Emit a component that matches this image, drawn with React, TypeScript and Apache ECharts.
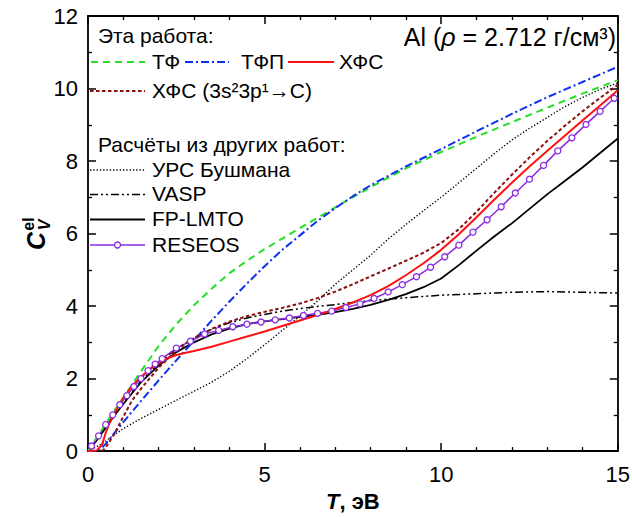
import { useEffect, useRef } from "react";
import * as echarts from "echarts";

// ---------- data ----------
const tfX = [0, 0.25, 0.5, 0.75, 1, 1.5, 2, 2.5, 3, 3.5, 4, 4.5, 5, 6, 7, 8, 9, 10, 11, 12, 13, 14, 15];
const tfY = [0, 0.38, 0.75, 1.12, 1.48, 2.2, 2.9, 3.5, 4.02, 4.48, 4.9, 5.25, 5.57, 6.15, 6.72, 7.28, 7.8, 8.25, 8.67, 9.07, 9.47, 9.86, 10.23];

const tfpX = [0, 0.3, 0.5, 0.75, 1, 1.5, 2, 2.5, 3, 3.5, 4, 4.5, 5, 5.5, 6, 6.5, 7, 7.5, 8, 9, 10, 11, 12, 13, 14, 15];
const tfpY = [0, 0.0, 0.2, 0.5, 0.8, 1.38, 1.95, 2.5, 3.05, 3.6, 4.12, 4.62, 5.1, 5.55, 5.95, 6.35, 6.7, 7.03, 7.33, 7.85, 8.33, 8.82, 9.3, 9.76, 10.18, 10.6];

const hfsX = [0, 0.25, 0.4, 0.5, 0.6, 0.75, 1, 1.25, 1.5, 1.75, 2, 2.25, 2.5, 2.7, 3, 3.5, 4, 4.5, 5, 5.5, 6, 6.5, 7, 7.5, 8, 8.5, 9, 9.5, 10, 10.5, 11, 11.5, 12, 12.5, 13, 13.5, 14, 14.5, 15];
const hfsY = [0, 0.02, 0.18, 0.5, 0.75, 1.05, 1.47, 1.8, 2.05, 2.25, 2.42, 2.56, 2.65, 2.7, 2.76, 2.88, 3.02, 3.16, 3.3, 3.45, 3.6, 3.75, 3.92, 4.1, 4.3, 4.55, 4.85, 5.18, 5.55, 5.98, 6.45, 6.93, 7.4, 7.85, 8.28, 8.7, 9.12, 9.53, 9.95];

const hfs3X = [0.4, 0.5, 0.75, 1, 1.25, 1.5, 2, 2.5, 3, 3.5, 4, 4.5, 5, 5.5, 6, 6.5, 7, 7.5, 8, 8.5, 9, 9.5, 10, 10.5, 11, 11.5, 12, 12.5, 13, 13.5, 14, 14.5, 15];
const hfs3Y = [0, 0.1, 0.48, 0.95, 1.4, 1.72, 2.3, 2.78, 3.12, 3.37, 3.57, 3.72, 3.84, 3.95, 4.07, 4.22, 4.4, 4.6, 4.82, 5.03, 5.25, 5.47, 5.74, 6.12, 6.6, 7.12, 7.62, 8.1, 8.55, 8.97, 9.37, 9.74, 10.1];

const ursX = [0, 0.3, 0.5, 0.7, 1, 1.5, 2, 2.5, 3, 3.5, 4, 4.5, 5, 5.5, 6, 6.5, 7, 7.5, 8, 8.5, 9, 9.5, 10, 10.5, 11, 11.5, 12, 12.5, 13, 13.5, 14, 14.5, 15];
const ursY = [0, 0.15, 0.27, 0.42, 0.62, 0.9, 1.15, 1.4, 1.65, 1.9, 2.2, 2.55, 2.93, 3.33, 3.72, 4.14, 4.6, 5.0, 5.4, 5.85, 6.25, 6.63, 7.0, 7.4, 7.8, 8.2, 8.58, 8.9, 9.2, 9.5, 9.75, 9.98, 10.15];

const vaspX = [0, 0.25, 0.5, 0.75, 1, 1.5, 2, 2.5, 3, 3.5, 4, 4.5, 5, 5.5, 6, 6.5, 7, 7.5, 8, 8.5, 9, 10, 11, 12, 13, 14, 15];
const vaspY = [0, 0.32, 0.68, 1.02, 1.33, 1.93, 2.42, 2.82, 3.12, 3.36, 3.54, 3.67, 3.77, 3.86, 3.93, 3.99, 4.04, 4.1, 4.15, 4.19, 4.23, 4.3, 4.34, 4.38, 4.4, 4.38, 4.36];

const lmtoX = [0, 0.25, 0.5, 0.75, 1, 1.5, 2, 2.5, 3, 3.5, 4, 4.5, 5, 5.5, 6, 6.5, 7, 7.5, 8, 8.5, 9, 9.5, 10, 10.5, 11, 11.5, 12, 12.5, 13, 13.5, 14, 14.5, 15];
const lmtoY = [0, 0.3, 0.64, 0.98, 1.3, 1.9, 2.36, 2.73, 3.0, 3.22, 3.38, 3.5, 3.58, 3.64, 3.7, 3.76, 3.83, 3.92, 4.03, 4.17, 4.33, 4.52, 4.76, 5.13, 5.53, 5.92, 6.28, 6.68, 7.08, 7.45, 7.82, 8.22, 8.62];

const reseosX = [0.1, 0.3, 0.5, 0.7, 0.9, 1.1, 1.3, 1.5, 1.7, 1.9, 2.1, 2.5, 2.9, 3.3, 3.7, 4.1, 4.5, 4.9, 5.3, 5.7, 6.1, 6.5, 6.9, 7.3, 7.7, 8.1, 8.5, 8.9, 9.3, 9.7, 10.1, 10.5, 10.9, 11.3, 11.7, 12.1, 12.5, 12.9, 13.3, 13.7, 14.1, 14.5, 14.9];
const reseosY = [0.14, 0.42, 0.73, 1.0, 1.28, 1.53, 1.78, 2.0, 2.22, 2.4, 2.55, 2.84, 3.03, 3.23, 3.33, 3.43, 3.5, 3.56, 3.62, 3.67, 3.74, 3.8, 3.86, 3.96, 4.06, 4.21, 4.39, 4.59, 4.81, 5.07, 5.36, 5.68, 6.04, 6.38, 6.74, 7.12, 7.5, 7.88, 8.28, 8.64, 9.01, 9.37, 9.73];

const xTickValues = [0, 5, 10, 15];
const yTickValues = [0, 2, 4, 6, 8, 10, 12];

const seriesNames = ["ТФ", "ТФП", "ХФС", "ХФС (3s²3p¹→C)", "УРС Бушмана", "VASP", "FP-LMTO", "RESEOS"];
const headerThis = "Эта работа:";
const headerOther = "Расчёты из других работ:";

// ---------- styles ----------
const FONT = "'Liberation Sans', Arial, sans-serif";
type Sty = { color: string; width: number; dash: number[] | "solid"; symbol?: boolean };
const styles: Sty[] = [
  { color: "#22e022", width: 2, dash: [7, 5] },
  { color: "#1030f0", width: 2, dash: [8, 3, 2, 3] },
  { color: "#ff1010", width: 2, dash: "solid" },
  { color: "#8b1010", width: 2, dash: [3.5, 2.5] },
  { color: "#000000", width: 1.4, dash: [1.3, 2] },
  { color: "#000000", width: 1.5, dash: [8, 3, 2, 3, 2, 3] },
  { color: "#000000", width: 1.8, dash: "solid" },
  { color: "#8a2be2", width: 1.5, dash: "solid", symbol: true },
];
const xsList = [tfX, tfpX, hfsX, hfs3X, ursX, vaspX, lmtoX, reseosX];
const ysList = [tfY, tfpY, hfsY, hfs3Y, ursY, vaspY, lmtoY, reseosY];
const drawOrder = [4, 5, 6, 7, 0, 1, 3, 2];

// legend layout (pixel positions of sample lines / labels)
const legendLayout = [
  { x1: 91, x2: 145, y: 62, tx: 152 },
  { x1: 185, x2: 229, y: 62, tx: 241 },
  { x1: 288, x2: 334, y: 62, tx: 339 },
  { x1: 90, x2: 145, y: 91, tx: 152 },
  { x1: 90, x2: 145, y: 170, tx: 152 },
  { x1: 90, x2: 145, y: 194.5, tx: 152 },
  { x1: 90, x2: 145, y: 219.5, tx: 152 },
  { x1: 90, x2: 145, y: 245, tx: 152 },
];

export default function App() {
  const ref = useRef<HTMLDivElement>(null);
  useEffect(() => {
    document.body.style.margin = "0";
    document.documentElement.style.overflow = "hidden";
    if (!ref.current) return;
    const chart = echarts.init(ref.current, null, { renderer: "svg", width: 633, height: 517 });

    const axisCommon = {
      type: "value" as const,
      axisLine: { show: true, onZero: false, lineStyle: { color: "#000", width: 1.8 } },
      axisTick: { show: true, inside: true, length: 8, lineStyle: { color: "#000", width: 1.5 } },
      minorTick: { show: true, length: 4, lineStyle: { color: "#000", width: 1.3 } },
      splitLine: { show: false },
    };

    const series: any[] = drawOrder.map((i) => {
      const st = styles[i];
      const data = xsList[i].map((x, k) => [x, ysList[i][k]]);
      return {
        type: "line",
        name: seriesNames[i],
        data,
        xAxisIndex: 0,
        yAxisIndex: 0,
        smooth: false,
        showSymbol: !!st.symbol,
        symbol: st.symbol ? "circle" : "none",
        symbolSize: 6,
        itemStyle: { color: "#fff", borderColor: st.color, borderWidth: 1.3 },
        lineStyle: { color: st.color, width: st.width, type: st.dash, join: "round" },
        silent: true,
        z: 3,
      };
    });

    const txt = (s: string, x: number, y: number) => ({
      type: "text",
      x,
      y,
      style: { text: s, font: `21px ${FONT}`, fill: "#000", verticalAlign: "middle", align: "left" },
    });

    const graphics: any[] = [];
    graphics.push(txt(headerThis, 98, 35));
    graphics.push(txt(headerOther, 98, 144));
    legendLayout.forEach((L, i) => {
      const st = styles[i];
      graphics.push({
        type: "line",
        shape: { x1: L.x1, y1: L.y, x2: L.x2, y2: L.y },
        style: {
          stroke: st.color,
          lineWidth: st.width,
          lineDash: st.dash === "solid" ? null : st.dash,
        },
      });
      if (st.symbol) {
        graphics.push({
          type: "circle",
          shape: { cx: (L.x1 + L.x2) / 2, cy: L.y, r: 3 },
          style: { fill: "#fff", stroke: st.color, lineWidth: 1.3 },
        });
      }
      graphics.push(txt(seriesNames[i], L.tx, L.y - 1));
    });
    // title
    graphics.push({
      type: "text",
      x: 616,
      y: 37,
      style: {
        text: "{a|Al (}{i|ρ}{a| = 2.712 г/см³)}",
        align: "right",
        verticalAlign: "middle",
        rich: {
          a: { font: `25px ${FONT}`, fill: "#000" },
          i: { font: `italic 25px ${FONT}`, fill: "#000" },
        },
      },
    });
    // y axis title: C_V^el rotated
    graphics.push({
      type: "group",
      x: 36,
      y: 241,
      rotation: Math.PI / 2,
      children: [
        {
          type: "text",
          x: 0,
          y: 0,
          style: { text: "C", font: `italic bold 25px ${FONT}`, fill: "#000", align: "center", verticalAlign: "middle" },
        },
        {
          type: "text",
          x: 16,
          y: 8,
          style: { text: "V", font: `italic bold 16px ${FONT}`, fill: "#000", align: "center", verticalAlign: "middle" },
        },
        {
          type: "text",
          x: 17,
          y: -8,
          style: { text: "el", font: `bold 16px ${FONT}`, fill: "#000", align: "center", verticalAlign: "middle" },
        },
      ],
    });

    const option: any = {
      animation: false,
      backgroundColor: "#fff",
      grid: { left: 88, right: 13, top: 16, bottom: 60, containLabel: false },
      xAxis: [
        {
          ...axisCommon,
          min: 0,
          max: 15,
          interval: 5,
          position: "bottom",
          minorTick: { ...axisCommon.minorTick, splitNumber: 5 },
          axisLabel: {
            color: "#000",
            fontSize: 22,
            fontFamily: FONT,
            margin: 12,
            formatter: (v: number) => (xTickValues.includes(v) ? String(v) : ""),
          },
          name: "{i|T}{b|, эВ}",
          nameLocation: "middle",
          nameGap: 34,
          nameTextStyle: {
            rich: {
              i: { fontSize: 22, fontWeight: "bold", fontStyle: "italic", fontFamily: FONT, color: "#000" },
              b: { fontSize: 22, fontWeight: "bold", fontFamily: FONT, color: "#000" },
            },
          },
        },
        {
          ...axisCommon,
          min: 0,
          max: 15,
          interval: 5,
          position: "top",
          minorTick: { ...axisCommon.minorTick, splitNumber: 5 },
          axisLabel: { show: false },
        },
      ],
      yAxis: [
        {
          ...axisCommon,
          min: 0,
          max: 12,
          interval: 2,
          position: "left",
          minorTick: { ...axisCommon.minorTick, splitNumber: 2 },
          axisLabel: {
            color: "#000",
            fontSize: 22,
            fontFamily: FONT,
            margin: 10,
            formatter: (v: number) => (yTickValues.includes(v) ? String(v) : ""),
          },
        },
        {
          ...axisCommon,
          min: 0,
          max: 12,
          interval: 2,
          position: "right",
          minorTick: { ...axisCommon.minorTick, splitNumber: 2 },
          axisLabel: { show: false },
        },
      ],
      series,
      graphic: graphics,
    };
    chart.setOption(option);
    return () => chart.dispose();
  }, []);
  return (
    <div
      ref={ref}
      style={{ position: "fixed", left: 0, top: 0, width: 633, height: 517, background: "#fff" }}
    />
  );
}
